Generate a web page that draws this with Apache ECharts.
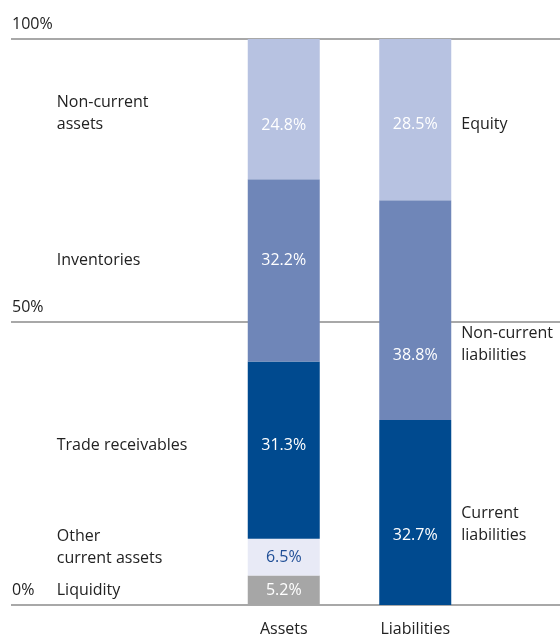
<!DOCTYPE html>
<html>
<head>
<meta charset="utf-8">
<script src="https://cdn.jsdelivr.net/npm/echarts@6/dist/echarts.min.js"></script>
<style>
  html, body { margin: 0; padding: 0; background: #fff; }
  #chart { width: 560px; height: 637px; }
</style>
</head>
<body>
<div id="chart"></div>
<script>
// data
const categories = ['Assets', 'Liabilities'];
const assetNames = ['Liquidity', 'Other\ncurrent assets', 'Trade receivables', 'Inventories', 'Non-current\nassets'];
const assetValues = [5.2, 6.5, 31.3, 32.2, 24.8];
const liabilityNames = ['Current\nliabilities', 'Non-current\nliabilities', 'Equity'];
const liabilityValues = [32.7, 38.8, 28.5];
const yTicks = [0, 50, 100];

// styles
const assetColors = ['#a6a6a6', '#e8eaf6', '#004a8f', '#6f86b8', '#b7c2e1'];
const liabilityColors = ['#004a8f', '#6f86b8', '#b7c2e1'];
const assetValueShift = [0, 0, -5, -10, 16];
const assetNameShift = [0, -10, -5, -10, 4];
const liabilityValueShift = [23, 45, 5];
const liabilityNameShift = [12, 34, 5];

const font = 'Open Sans';
const fontSize = 16;
const series = [];

function addSegment(name, value, idx, color, valueDy, nameDy, side) {
  const data = idx === 0 ? [value, '-'] : ['-', value];
  // visible block with the percentage inside
  series.push({
    name: name,
    type: 'bar',
    stack: 'vals',
    xAxisIndex: 1,
    yAxisIndex: 1,
    barWidth: 72,
    barGap: '-100%',
    itemStyle: { color: color },
    label: {
      show: true,
      position: 'inside',
      offset: [0, valueDy],
      formatter: (p) => p.value.toFixed(1) + '%',
      color: color === '#e8eaf6' ? '#1f4e96' : '#fff',
      fontFamily: font,
      fontSize: fontSize
    },
    data: data
  });
  // transparent twin carrying the name label
  series.push({
    name: name + ' ',
    type: 'bar',
    stack: 'names',
    xAxisIndex: 1,
    yAxisIndex: 1,
    barWidth: 72,
    barGap: '-100%',
    silent: true,
    itemStyle: { color: 'rgba(0,0,0,0)' },
    label: {
      show: true,
      position: side === 'left' ? [-191, '50%'] : [82, '50%'],
      align: 'left',
      verticalAlign: 'middle',
      offset: [0, nameDy],
      formatter: name,
      color: '#222',
      fontFamily: font,
      fontSize: fontSize,
      lineHeight: 22
    },
    data: data
  });
}

assetNames.forEach((n, i) => addSegment(n, assetValues[i], 0, assetColors[i], assetValueShift[i], assetNameShift[i], 'left'));
liabilityNames.forEach((n, i) => addSegment(n, liabilityValues[i], 1, liabilityColors[i], liabilityValueShift[i], liabilityNameShift[i], 'right'));

const chart = echarts.init(document.getElementById('chart'));
chart.setOption({
  animation: false,
  grid: [
    { left: 11, right: 0, top: 39, bottom: 32 },
    { left: 218, width: 263, top: 39, bottom: 32 }
  ],
  xAxis: [
    { gridIndex: 0, type: 'category', data: categories, show: false },
    {
      gridIndex: 1,
      type: 'category',
      data: categories,
      axisLine: { show: false },
      axisTick: { show: false },
      axisLabel: { margin: 16, color: '#222', fontFamily: font, fontSize: fontSize }
    }
  ],
  yAxis: [
    {
      gridIndex: 0,
      type: 'value',
      min: yTicks[0],
      max: yTicks[yTicks.length - 1],
      interval: yTicks[1] - yTicks[0],
      axisLine: { show: false },
      axisTick: { show: false },
      splitLine: { lineStyle: { color: '#a8a8a8', width: 2 } },
      axisLabel: {
        inside: true,
        margin: 1,
        align: 'left',
        verticalAlign: 'bottom',
        lineHeight: 20,
        padding: [0, 0, 5, 0],
        formatter: '{value}%',
        color: '#222',
        fontFamily: font,
        fontSize: fontSize
      }
    },
    { gridIndex: 1, type: 'value', min: 0, max: 100, show: false }
  ],
  series: series
});
</script>
</body>
</html>
